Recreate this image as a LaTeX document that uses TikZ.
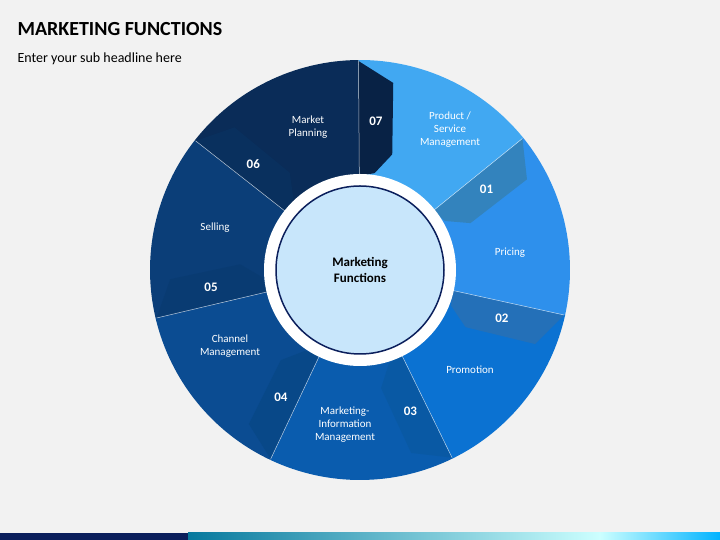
\documentclass[tikz,border=0pt]{standalone}
\usepackage{fontspec}
\setmainfont{Carlito}
\definecolor{bg}{HTML}{F2F2F2}
\definecolor{s0}{HTML}{41A8F2}
\definecolor{s1}{HTML}{2E90EC}
\definecolor{s2}{HTML}{0B72D2}
\definecolor{s3}{HTML}{0A5CAE}
\definecolor{s4}{HTML}{0B4C92}
\definecolor{s5}{HTML}{0B3E78}
\definecolor{s6}{HTML}{0A2C58}
\definecolor{navy}{HTML}{0B1F5C}
\definecolor{inner}{HTML}{C8E6FB}
\tikzset{lbl/.style={text=white,font=\fontsize{11pt}{13pt}\selectfont,align=center},
num/.style={text=white,font=\bfseries\fontsize{13pt}{15pt}\selectfont}}
\begin{document}
\begin{tikzpicture}[x=1pt,y=1pt]
\fill[bg] (0,0) rectangle (720,540);
\useasboundingbox (0,0) rectangle (720,540);
\fill[navy] (0,0) rectangle (188,7);
\shade[left color=navy!60!cyan, right color=white!80!cyan] (188,0) rectangle (600,7);
\shade[left color=white!80!cyan, right color=cyan!70!blue] (600,0) rectangle (720,7);
\node[anchor=west,font=\bfseries\fontsize{20pt}{22pt}\selectfont] (title) at (14,511) {MARKETING FUNCTIONS};
\node[anchor=west,font=\fontsize{14pt}{16pt}\selectfont] (sub) at (14,481) {Enter your sub headline here};
\begin{scope}[shift={(360,270)}]
\foreach \k in {0,...,6}{
  \pgfmathsetmacro\a{39-51.43*\k}
  \pgfmathsetmacro\b{90.43-51.43*\k}
  \fill[s\k] (0,0) -- (\a:210pt) arc[start angle=\a,end angle=\b,radius=210pt] -- cycle;
}
\foreach \k in {0,...,6}{
  \pgfmathsetmacro\a{39-51.43*\k}
  \pgfmathtruncatemacro\n{\k+1}
  \fill[s\k!78!black] (\a:94pt) -- (\a:209pt) -- (\a-10.5:190pt) -- (\a-16:120pt) -- (\a-9:98pt) -- cycle;
  \draw[white!70!s\k,line width=0.5pt] (\a:94pt) -- (\a:209pt);
  \node[num] (n\n) at (\a-6.5:150pt) {0\n};
}
\fill[white] (0,0) circle[radius=96pt];
\fill[inner] (0,0) circle[radius=84pt];
\draw[navy,line width=1.5pt] (0,0) circle[radius=84pt];
\node[font=\bfseries\fontsize{13pt}{16pt}\selectfont,align=center] (c) at (0,0) {Marketing\\Functions};
\end{scope}
\node[lbl] (l1) at (450,410) {Product /\\Service\\Management};
\node[lbl] (l2) at (510,287) {Pricing};
\node[lbl] (l3) at (470,170) {Promotion};
\node[lbl] (l4) at (345,115) {Marketing-\\Information\\Management};
\node[lbl] (l5) at (230,194) {Channel\\Management};
\node[lbl] (l6) at (215,312) {Selling};
\node[lbl] (l7) at (308,413) {Market\\Planning};
\end{tikzpicture}
\end{document}
